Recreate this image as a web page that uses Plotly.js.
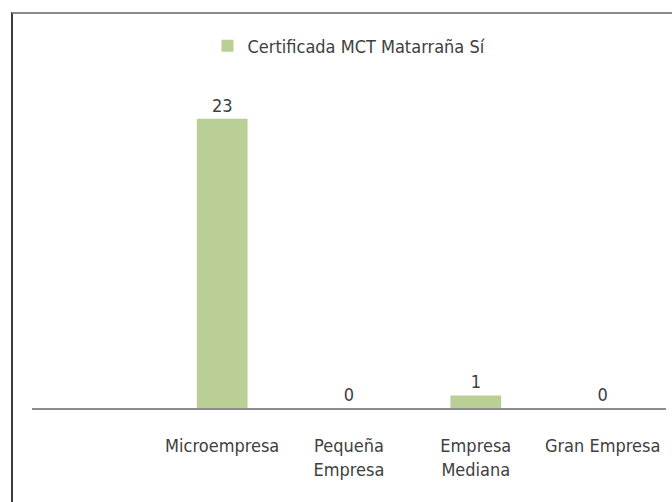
<!DOCTYPE html>
<html>
<head>
<meta charset="utf-8">
<script src="https://cdn.plot.ly/plotly-3.0.1.min.js"></script>
<style>
  html, body { margin: 0; padding: 0; background: #ffffff; }
  #wrap { position: relative; width: 672px; height: 502px; overflow: hidden; }
  #chart { position: absolute; left: 0; top: 0; width: 672px; height: 502px; }
  #frame { position: absolute; left: 11px; top: 12px; width: 700px; height: 600px;
           border-left: 2px solid #3c3c3c; border-top: 2px solid #8a8a8a; pointer-events: none; }
</style>
</head>
<body>
<div id="wrap">
  <div id="chart"></div>
  <div id="frame"></div>
</div>
<script>
const categories = ["Microempresa", "Pequeña Empresa", "Empresa Mediana", "Gran Empresa"];
const tickLabels = ["Microempresa", "Pequeña<br>Empresa", "Empresa<br>Mediana", "Gran Empresa"];
const seriesName = "Certificada MCT Matarraña Sí";
const values = [23, 0, 1, 0];

const fontFam = "'DejaVu Sans Condensed', 'Liberation Sans Narrow', sans-serif";
const textColor = "#404040";

const trace = {
  type: "bar",
  x: categories,
  y: values,
  name: seriesName,
  width: 0.4,
  marker: { color: "#b9cf95" },
  text: values.map(String),
  textposition: "outside",
  cliponaxis: false,
  textfont: { family: fontFam, size: 18, color: textColor },
  showlegend: true
};

const layout = {
  width: 672,
  height: 502,
  margin: { l: 32, r: 6, t: 100, b: 94 },
  paper_bgcolor: "#ffffff",
  plot_bgcolor: "#ffffff",
  font: { family: fontFam, size: 18, color: textColor },
  showlegend: true,
  legend: {
    orientation: "h",
    x: 0.5, xanchor: "center",
    y: 1.175, yanchor: "middle",
    font: { family: fontFam, size: 18, color: textColor },
    itemwidth: 30
  },
  xaxis: {
    type: "category",
    categoryorder: "array",
    categoryarray: categories,
    range: [-1.5, 3.5],
    tickvals: categories,
    ticktext: tickLabels,
    showline: true,
    linecolor: "#8c8c8c",
    linewidth: 1.5,
    ticks: "outside",
    ticklen: 21,
    tickcolor: "rgba(0,0,0,0)",
    showgrid: false,
    zeroline: false,
    tickfont: { family: fontFam, size: 18, color: textColor },
    fixedrange: true
  },
  yaxis: {
    range: [0, 24.5],
    visible: false,
    showgrid: false,
    zeroline: false,
    fixedrange: true
  },
  bargap: 0.6
};

Plotly.newPlot("chart", [trace], layout, { staticPlot: true, displayModeBar: false });
</script>
</body>
</html>
